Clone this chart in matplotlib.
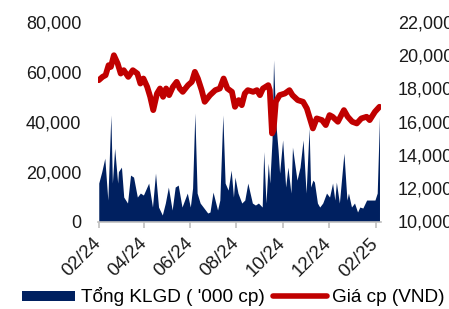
import matplotlib
matplotlib.use("Agg")
import matplotlib.pyplot as plt
import matplotlib.dates as mdates
from matplotlib.lines import Line2D
import pandas as pd

price_dates = ["2024-02-01","2024-02-06","2024-02-10","2024-02-14","2024-02-17","2024-02-21","2024-02-26",
               "2024-03-01","2024-03-05","2024-03-11","2024-03-17","2024-03-23","2024-03-27","2024-03-31",
               "2024-04-05","2024-04-09","2024-04-13","2024-04-18","2024-04-22","2024-04-26","2024-04-30",
               "2024-05-04","2024-05-09","2024-05-14","2024-05-18","2024-05-22","2024-05-29",
               "2024-06-03","2024-06-07","2024-06-11","2024-06-16","2024-06-20","2024-06-27",
               "2024-07-04","2024-07-10","2024-07-15","2024-07-20","2024-07-26","2024-07-30",
               "2024-08-04","2024-08-08","2024-08-12","2024-08-16","2024-08-23","2024-08-28",
               "2024-09-01","2024-09-05","2024-09-12","2024-09-14","2024-09-17","2024-09-19","2024-09-22","2024-09-27",
               "2024-10-04","2024-10-10","2024-10-14","2024-10-21","2024-10-28",
               "2024-11-02","2024-11-06","2024-11-10","2024-11-15","2024-11-22","2024-11-27",
               "2024-12-02","2024-12-06","2024-12-13","2024-12-21","2024-12-26",
               "2025-01-01","2025-01-07","2025-01-13","2025-01-20","2025-01-24","2025-01-31","2025-02-06"]
price_values = [18500,18700,18800,19400,19300,20000,19500,
                18900,19100,18700,19100,18900,18300,18600,
                18100,17500,16700,17700,18000,17500,18000,
                17600,18100,18400,18000,17800,18200,
                18400,19000,18600,17900,17200,17600,
                17900,18000,18600,18000,17800,16900,
                17300,17000,17700,17900,17800,17900,
                17600,18000,18200,17900,15300,15500,17200,17600,
                17700,17900,17600,17300,17200,
                16800,16200,15600,16200,16100,15800,
                16400,16300,16000,16700,16300,
                16000,15900,16200,16300,16100,16600,16900]

vol_dates = ["2024-02-01","2024-02-05","2024-02-09","2024-02-13","2024-02-17","2024-02-19","2024-02-22","2024-02-26","2024-02-27",
             "2024-03-02","2024-03-05","2024-03-10","2024-03-14","2024-03-18","2024-03-23","2024-03-27","2024-03-31",
             "2024-04-07","2024-04-12","2024-04-16","2024-04-20","2024-04-25","2024-04-29",
             "2024-05-03","2024-05-08","2024-05-12","2024-05-16","2024-05-21","2024-05-28",
             "2024-06-01","2024-06-04","2024-06-07","2024-06-10","2024-06-14","2024-06-18","2024-06-24","2024-06-27",
             "2024-07-01","2024-07-07","2024-07-10","2024-07-14","2024-07-17","2024-07-21","2024-07-25","2024-07-28","2024-07-30",
             "2024-08-03","2024-08-08","2024-08-12","2024-08-16","2024-08-22","2024-08-26","2024-08-30",
             "2024-09-04","2024-09-06","2024-09-09","2024-09-12","2024-09-14","2024-09-17","2024-09-19","2024-09-22","2024-09-25","2024-09-27",
             "2024-10-01","2024-10-05","2024-10-08","2024-10-12","2024-10-14","2024-10-20","2024-10-24","2024-10-28",
             "2024-11-01","2024-11-05","2024-11-07","2024-11-10","2024-11-12","2024-11-16","2024-11-19","2024-11-23","2024-11-28",
             "2024-12-02","2024-12-06","2024-12-09","2024-12-11","2024-12-15","2024-12-21","2024-12-25","2024-12-27","2024-12-31",
             "2025-01-04","2025-01-08","2025-01-11","2025-01-15","2025-01-20","2025-01-27","2025-01-31","2025-02-03","2025-02-06"]
vol_values = [15400,20000,25400,8600,42700,15400,29400,15400,20000,
              21800,9800,7400,18600,17800,9800,11400,10600,
              15400,5800,19400,5800,2600,7400,
              13800,4600,13800,14600,5800,11400,
              5800,13400,43500,11400,7400,5800,3400,3800,
              11800,4600,8600,42700,15400,12600,20600,9800,17800,
              11400,7400,8600,15400,7400,6600,7400,
              5800,28000,7400,23400,15400,32700,64800,39500,28600,19400,
              32700,13800,21800,11400,29800,16600,21800,32700,
              11400,37500,13800,16600,15800,7400,5800,7400,11400,
              9800,15400,8600,15800,7400,27400,8600,11400,5800,
              7400,3800,5800,5400,8600,8600,8600,11400,41900]

vol_label = "Tổng KLGD ( '000 cp)"
price_label = "Giá cp (VND)"
navy = "#002060"
red = "#C00000"

plt.rcParams['font.family'] = ['Liberation Sans', 'DejaVu Sans']
plt.rcParams['font.size'] = 13

fig = plt.figure(figsize=(4.49, 3.09), dpi=100)
ax = fig.add_axes([98/449, 1-221.5/309, (381-98)/449, (221.5-22)/309])
ax2 = ax.twinx()

vd = pd.to_datetime(vol_dates)
pdt = pd.to_datetime(price_dates)
ax.fill_between(vd, vol_values, 0, color=navy, lw=0)
ax2.plot(pdt, price_values, color=red, lw=4.2, solid_capstyle='round', solid_joinstyle='round')

ax.set_ylim(0, 80000)
ax.set_yticks([0, 20000, 40000, 60000, 80000])
ax.yaxis.set_major_formatter(matplotlib.ticker.FuncFormatter(lambda v, p: f"{int(v):,}"))
ax2.set_ylim(10000, 22000)
ax2.set_yticks(range(10000, 22001, 2000))
ax2.yaxis.set_major_formatter(matplotlib.ticker.FuncFormatter(lambda v, p: f"{int(v):,}"))

ax.set_xlim(pd.Timestamp("2024-01-31"), pd.Timestamp("2025-02-08"))
ticks = pd.to_datetime(["2024-02-01","2024-04-01","2024-06-01","2024-08-01","2024-10-01","2024-12-01","2025-02-01"])
ax.set_xticks(ticks)
ax.xaxis.set_major_formatter(mdates.DateFormatter("%m/%y"))
for lbl in ax.get_xticklabels():
    lbl.set_rotation(45)
    lbl.set_ha('right')
    lbl.set_va('center')
    lbl.set_rotation_mode('anchor')
    lbl.set_fontsize(13.5)

for a in (ax, ax2):
    for s in ('left', 'right', 'top', 'bottom'):
        a.spines[s].set_visible(False)
ax.spines['bottom'].set_visible(True)
ax.spines['bottom'].set_color('#BFBFBF')
ax.spines['bottom'].set_linewidth(1.2)
ax.tick_params(axis='x', length=4, width=1.2, color='#BFBFBF', pad=10, labelcolor='#1a1a1a')
ax.tick_params(axis='y', length=0, pad=12, labelcolor='#1a1a1a')
ax2.tick_params(axis='y', length=0, pad=12, labelcolor='#1a1a1a')

handles = [Line2D([0], [0], color=navy, lw=7.2, solid_capstyle='butt'),
           Line2D([0], [0], color=red, lw=4.0, solid_capstyle='round')]
fig.legend(handles, [vol_label, price_label], loc='center left', bbox_to_anchor=(22/449, 1-297/309),
           ncol=2, frameon=False, handlelength=2.8, handletextpad=0.3, columnspacing=0.45,
           borderaxespad=0, borderpad=0, fontsize=13.7)

fig.savefig("out.png", dpi=100)
